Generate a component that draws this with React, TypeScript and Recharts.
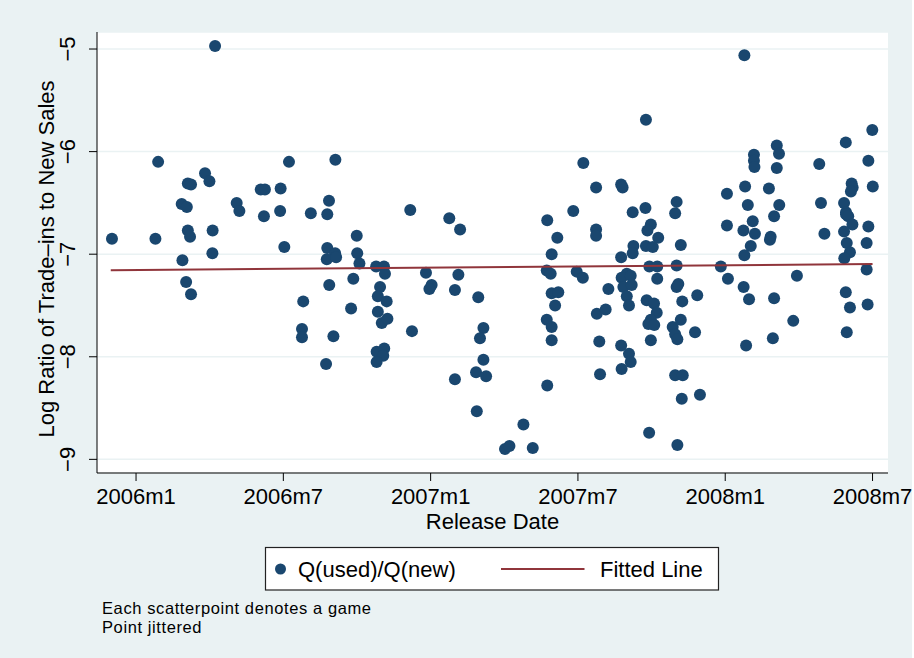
import React from 'react';
import { ComposedChart, Scatter, XAxis, YAxis, CartesianGrid } from 'recharts';

// Release date, in months since 2006m1 (jittered)
const releaseMonth: number[] = [
  -0.98, 0.79, 0.9, 1.89, 1.86, 2.07, 2.04, 2.24, 2.11, 2.24,
  2.11, 2.2, 2.81, 2.99, 3.12, 3.11, 3.22, 4.1, 4.21, 5.08,
  5.25, 5.21, 5.89, 5.87, 6.04, 6.23, 6.76, 6.76, 6.81, 7.12,
  7.74, 7.79, 7.86, 7.87, 8.04, 8.12, 7.79, 8.11, 7.77, 8.15,
  8.76, 8.85, 8.99, 9.01, 9.1, 9.78, 10.1, 10.14, 9.94, 9.85,
  10.21, 9.85, 10.01, 10.24, 9.8, 10.11, 10.07, 9.8, 11.17, 11.24,
  11.81, 12.04, 11.95, 12.76, 13.2, 13.13, 12.99, 12.99, 13.94, 14.15,
  14.01, 14.15, 13.85, 14.26, 13.88, 15.03, 15.21, 15.78, 16.16, 16.75,
  17.16, 16.93, 16.73, 16.89, 16.93, 17.2, 17.07, 16.73, 16.93, 16.93,
  16.75, 17.81, 17.95, 18.2, 18.22, 18.74, 18.74, 18.74, 18.77, 19.13,
  18.87, 18.9, 19.24, 19.76, 19.82, 19.76, 19.99, 19.78, 20.15, 19.85,
  20.19, 19.99, 20.08, 19.76, 20.08, 20.15, 19.78, 20.23, 20.26, 20.23,
  20.75, 20.77, 20.97, 20.83, 21.27, 20.77, 21.05, 20.91, 21.23, 21.23,
  20.8, 21.1, 21.21, 20.97, 20.87, 21.11, 20.97, 20.9, 22.02, 21.96,
  22.19, 22.02, 22.02, 22.09, 22.25, 21.86, 22.19, 21.96, 22.05, 21.96,
  22.27, 22.05, 22.86, 22.77, 22.97, 22.23, 23.82, 24.07, 24.07, 24.11,
  24.78, 25.17, 25.17, 25.19, 26.1, 26.19, 26.1, 24.81, 25.78, 24.92,
  26.2, 25.99, 25.12, 24.74, 25.21, 25.85, 25.82, 25.04, 24.78, 24.75,
  24.97, 25.99, 26.92, 26.77, 25.94, 24.85, 27.83, 27.9, 28.04, 28.91,
  29.15, 29.19, 29.12, 28.84, 28.92, 28.92, 29.01, 29.18, 28.84, 28.95,
  29.08, 28.85, 28.91, 29.08, 28.95, 29.99, 29.83, 30.01, 29.83, 29.76,
  29.76, 29.8,
];

// Log ratio of trade-ins to new sales
const logRatio: number[] = [
  -6.85, -6.85, -6.1, -7.06, -6.51, -6.54, -7.27, -7.39, -6.31, -6.32,
  -6.77, -6.83, -6.21, -6.29, -6.77, -6.99, -4.97, -6.5, -6.58, -6.37,
  -6.37, -6.63, -6.36, -6.58, -6.93, -6.1, -7.73, -7.81, -7.46, -6.6,
  -8.07, -6.61, -6.48, -7.3, -7.8, -6.08, -6.94, -6.99, -7.05, -7.03,
  -7.53, -7.24, -6.82, -6.99, -7.09, -7.12, -7.12, -7.19, -7.32, -7.41,
  -7.46, -7.56, -7.67, -7.63, -7.95, -7.92, -7.99, -8.05, -6.57, -7.75,
  -7.18, -7.3, -7.34, -6.65, -6.76, -7.2, -7.35, -8.22, -7.42, -7.72,
  -7.82, -8.03, -8.15, -8.19, -8.53, -8.9, -8.87, -8.66, -8.89, -6.67,
  -6.84, -7.0, -7.16, -7.19, -7.38, -7.37, -7.5, -7.64, -7.71, -7.84,
  -8.28, -6.58, -7.17, -7.23, -6.11, -6.35, -6.76, -6.82, -7.58, -7.54,
  -7.85, -8.17, -7.34, -6.32, -6.35, -7.03, -7.19, -7.23, -7.21, -7.32,
  -7.3, -7.41, -7.5, -7.89, -7.97, -8.05, -8.12, -6.59, -6.92, -6.99,
  -6.55, -5.69, -6.71, -6.77, -6.84, -6.92, -6.93, -7.12, -7.12, -7.24,
  -7.45, -7.48, -7.57, -7.64, -7.68, -7.69, -7.84, -8.74, -6.49, -6.6,
  -6.91, -7.11, -7.32, -7.29, -7.46, -7.71, -7.64, -7.78, -7.83, -8.18,
  -8.18, -8.86, -7.4, -7.76, -8.37, -8.41, -7.12, -6.41, -6.72, -7.24,
  -5.06, -6.03, -6.09, -6.15, -5.94, -6.02, -6.16, -6.34, -6.36, -6.52,
  -6.52, -6.63, -6.68, -6.77, -6.8, -6.83, -6.86, -6.92, -7.01, -7.32,
  -7.44, -7.43, -7.21, -7.65, -7.82, -7.89, -6.12, -6.5, -6.8, -5.91,
  -6.31, -6.35, -6.39, -6.5, -6.59, -6.61, -6.63, -6.71, -6.78, -6.89,
  -6.98, -7.04, -7.37, -7.52, -7.76, -5.79, -6.09, -6.34, -6.73, -6.89,
  -7.15, -7.49,
];

// Fitted line endpoints
const fitMonth: number[] = [-1.03, 30.0];
const fitValue: number[] = [-7.157, -7.096];

const xTickValues: number[] = [0, 6, 12, 18, 24, 30];
const xTickLabels: string[] = ['2006m1', '2006m7', '2007m1', '2007m7', '2008m1', '2008m7'];
const yTickValues: number[] = [-9, -8, -7, -6, -5];
const yTickLabels: string[] = ['\u22129', '\u22128', '\u22127', '\u22126', '\u22125'];

const seriesNames: string[] = ['Q(used)/Q(new)', 'Fitted Line'];
const xTitle = 'Release Date';
const yTitle = 'Log Ratio of Trade\u2013ins to New Sales';
const notes: string[] = ['Each scatterpoint denotes a game', 'Point jittered'];

const FONT = '"Liberation Sans", Arial, Helvetica, sans-serif';
const NAVY = '#1a476f';
const MAROON = '#90353b';
const BG = '#eaf2f3';

const scatterData = releaseMonth.map((m, i) => ({ m, v: logRatio[i] }));
const fitData = fitMonth.map((m, i) => ({ m, v: fitValue[i] }));

const XTick = (props: any) => {
  const { x, y, payload } = props;
  const idx = xTickValues.indexOf(payload.value);
  return (
    <text x={x} y={y} dy={21} textAnchor="middle" fontSize={22} fontFamily={FONT} fill="#000">
      {idx >= 0 ? xTickLabels[idx] : payload.value}
    </text>
  );
};

const YTick = (props: any) => {
  const { x, y, payload } = props;
  const idx = yTickValues.indexOf(payload.value);
  const bx = x - 11.5;
  return (
    <text
      x={bx}
      y={y}
      transform={`rotate(-90, ${bx}, ${y})`}
      textAnchor="middle"
      fontSize={22}
      fontFamily={FONT}
      fill="#000"
    >
      {idx >= 0 ? yTickLabels[idx] : payload.value}
    </text>
  );
};

const Dot = (props: any) => {
  const { cx, cy } = props;
  if (cx == null || cy == null) return <g />;
  return <circle cx={cx} cy={cy} r={6} fill={NAVY} />;
};

const NoDot = () => <g />;

export default function App() {
  return (
    <div
      style={{
        position: 'absolute',
        left: 0,
        top: 0,
        width: 912,
        height: 658,
        background: BG,
        overflow: 'hidden',
      }}
    >
      <ComposedChart
        width={914}
        height={658}
        margin={{ top: 32, right: 26, bottom: 125, left: 0 }}
        style={{ position: 'absolute', left: 0, top: 0 }}
      >
        <CartesianGrid
          vertical={false}
          horizontal={true}
          fill="#ffffff"
          fillOpacity={1}
          stroke={BG}
          strokeWidth={1.5}
        />
        <XAxis
          type="number"
          dataKey="m"
          domain={[-1.59, 30.63]}
          ticks={xTickValues}
          allowDataOverflow
          height={60}
          tickSize={8}
          tickMargin={2}
          axisLine={{ stroke: '#000', strokeWidth: 1 }}
          tickLine={{ stroke: '#000', strokeWidth: 1 }}
          tick={<XTick />}
          interval={0}
        />
        <YAxis
          type="number"
          dataKey="v"
          domain={[-9.133, -4.834]}
          ticks={yTickValues}
          allowDataOverflow
          width={97}
          tickSize={8}
          tickMargin={2}
          axisLine={{ stroke: '#000', strokeWidth: 1 }}
          tickLine={{ stroke: '#000', strokeWidth: 1 }}
          tick={<YTick />}
          interval={0}
        />
        <Scatter
          name={seriesNames[0]}
          data={scatterData}
          shape={<Dot />}
          isAnimationActive={false}
        />
        <Scatter
          name={seriesNames[1]}
          data={fitData}
          line={{ stroke: MAROON, strokeWidth: 2 }}
          shape={<NoDot />}
          isAnimationActive={false}
        />
      </ComposedChart>
      <svg
        width={914}
        height={658}
        style={{ position: 'absolute', left: 0, top: 0, pointerEvents: 'none' }}
      >
        <text
          x={54}
          y={259}
          transform="rotate(-90, 54, 259)"
          textAnchor="middle"
          fontSize={22}
          fontFamily={FONT}
          fill="#000"
        >
          {yTitle}
        </text>
        <text x={492.5} y={529} textAnchor="middle" fontSize={22} fontFamily={FONT} fill="#000">
          {xTitle}
        </text>
        <rect x={265.5} y={547.5} width={453} height={42.5} fill="#fff" stroke="#222" strokeWidth={1.2} />
        <circle cx={280.5} cy={569} r={5.5} fill={NAVY} />
        <text x={298} y={577} fontSize={22} fontFamily={FONT} fill="#000">
          {seriesNames[0]}
        </text>
        <line x1={501} x2={584.5} y1={569} y2={569} stroke={MAROON} strokeWidth={2} />
        <text x={600} y={577} fontSize={22} fontFamily={FONT} fill="#000">
          {seriesNames[1]}
        </text>
        <text x={102} y={614} fontSize={16.5} letterSpacing={0.6} fontFamily={FONT} fill="#000">
          {notes[0]}
        </text>
        <text x={102} y={633} fontSize={16.5} letterSpacing={0.6} fontFamily={FONT} fill="#000">
          {notes[1]}
        </text>
      </svg>
    </div>
  );
}
